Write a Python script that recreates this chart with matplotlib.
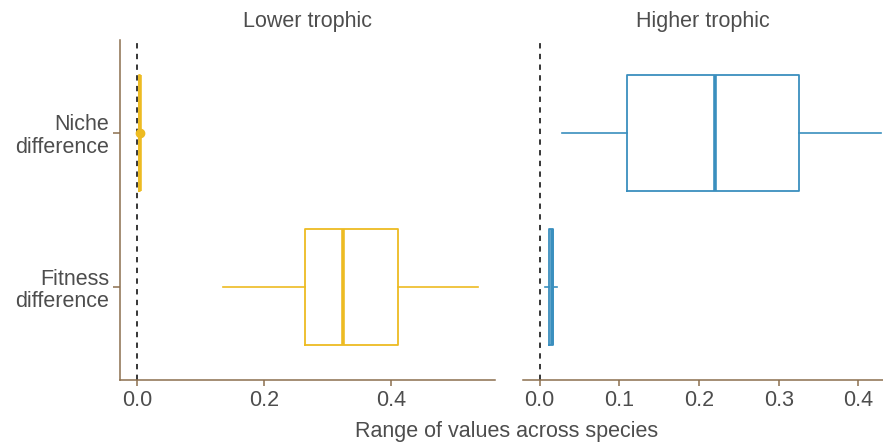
import matplotlib
matplotlib.use("Agg")
import matplotlib.pyplot as plt

plt.rcParams['font.family'] = ['Liberation Sans', 'DejaVu Sans']

categories = ["Fitness\ndifference", "Niche\ndifference"]
panels = ["Lower trophic", "Higher trophic"]

# box stats per panel: (whislo, q1, med, q3, whishi, fliers) for fitness, niche
lower_stats = {
    "Fitness\ndifference": (0.135, 0.265, 0.324, 0.411, 0.537, []),
    "Niche\ndifference": (0.003, 0.003, 0.004, 0.004, 0.004, [0.004]),
}
higher_stats = {
    "Fitness\ndifference": (0.007, 0.012, 0.015, 0.017, 0.022, []),
    "Niche\ndifference": (0.028, 0.109, 0.220, 0.326, 0.428, []),
}
lower_ticks = [0.0, 0.2, 0.4]
higher_ticks = [0.0, 0.1, 0.2, 0.3, 0.4]

gold = "#EDBB22"
blue = "#3A8FBE"
spine_col = "#8B6F4E"
txt_col = "#4D4D4D"
fs = 15.5

fig = plt.figure(figsize=(8.83, 4.45), dpi=100)
ax1 = fig.add_axes([120/883, 65/445, 375/883, 340/445])
ax2 = fig.add_axes([523/883, 65/445, 360/883, 340/445])

def draw(ax, stats, col, ticks, xlim):
    bs = []
    for c in categories:
        lo, q1, med, q3, hi, fl = stats[c]
        bs.append(dict(whislo=lo, q1=q1, med=med, q3=q3, whishi=hi, fliers=fl))
    ax.bxp(bs, positions=[1, 2], vert=False, widths=0.75, showcaps=False,
           boxprops=dict(color=col, linewidth=1.3),
           whiskerprops=dict(color=col, linewidth=1.2),
           medianprops=dict(color=col, linewidth=2.6),
           flierprops=dict(marker='o', markerfacecolor=col, markeredgecolor=col,
                           markersize=6))
    ax.axvline(0, color='black', linestyle=(0, (3.5, 3.5)), linewidth=1.1, zorder=0)
    ax.set_ylim(0.4, 2.6)
    ax.set_xlim(*xlim)
    ax.set_xticks(ticks)
    ax.set_xticklabels([f"{t:.1f}" for t in ticks])
    for s in ['top', 'right']:
        ax.spines[s].set_visible(False)
    ax.spines['bottom'].set_color(spine_col)
    ax.spines['left'].set_color(spine_col)
    ax.spines['bottom'].set_linewidth(1.1)
    ax.spines['left'].set_linewidth(1.1)
    ax.tick_params(axis='x', colors=spine_col, labelcolor=txt_col, labelsize=fs,
                   length=4, width=1.1, pad=3)

draw(ax1, lower_stats, gold, lower_ticks, (-0.027, 0.564))
draw(ax2, higher_stats, blue, higher_ticks, (-0.021, 0.431))

ax1.set_yticks([1, 2])
ax1.set_yticklabels(categories, ha='right', linespacing=1.1)
ax1.tick_params(axis='y', colors=spine_col, labelcolor=txt_col, labelsize=fs,
                length=5, width=1.1, pad=3)
ax2.spines['left'].set_visible(False)
ax2.set_yticks([])

ax1.set_title(panels[0], color=txt_col, fontsize=fs, pad=9)
ax2.set_title(panels[1], color=txt_col, fontsize=fs, pad=9)

fig.text(507/883, 1 - 432/445, "Range of values across species", ha='center',
         va='center', color=txt_col, fontsize=fs)

fig.savefig("out.png", dpi=100)
